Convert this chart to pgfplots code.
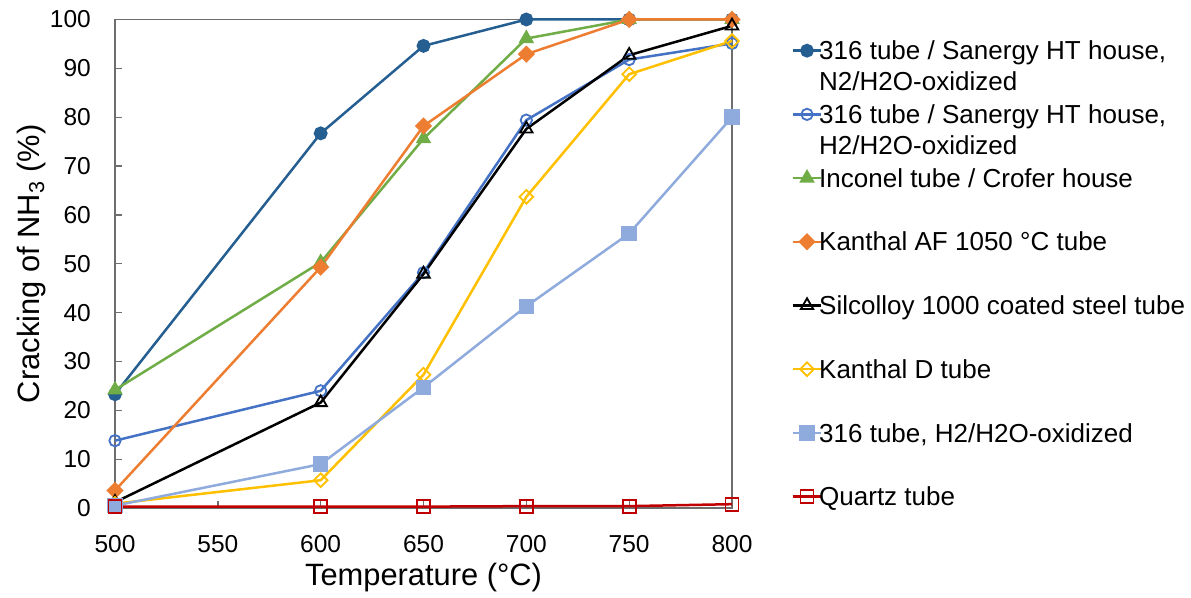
\documentclass[border=0pt]{standalone}
\usepackage{pgfplots}
\pgfplotsset{compat=1.18}
\usepackage{fontspec}
\setmainfont{Liberation Sans}

\definecolor{axisgray}{RGB}{110,110,110}
\definecolor{cdarkblue}{RGB}{37,94,145}
\definecolor{cblue}{RGB}{68,114,196}
\definecolor{cgreen}{RGB}{112,173,71}
\definecolor{corange}{RGB}{237,125,49}
\definecolor{cyellow}{RGB}{255,192,0}
\definecolor{clightblue}{RGB}{143,170,220}
\definecolor{cred}{RGB}{192,0,0}

\begin{document}
\begin{tikzpicture}
\begin{axis}[
    width=370pt, height=293pt, scale only axis,
    xmin=500, xmax=800, ymin=0, ymax=100,
    xtick={500,550,...,800}, ytick={0,10,...,100},
    xtick pos=bottom, ytick pos=left,
    tick align=inside, major tick length=4pt,
    axis line style={draw=axisgray, line width=1pt},
    tick style={draw=axisgray, line width=0.8pt},
    clip=false,
    /pgf/number format/assume math mode=true,
    ticklabel style={font=\fontsize{14.7}{17}\selectfont},
    xticklabel style={yshift=-13pt},
    yticklabel style={xshift=-11pt},
    xlabel={Temperature (°C)},
    ylabel={Cracking of NH\textsubscript{3} (\%)},
    every axis x label/.style={at={(axis description cs:0.5,-0.142)}, anchor=center,
      font=\fontsize{18.5}{22}\selectfont},
    every axis y label/.style={at={(axis description cs:-0.136,0.5)}, anchor=center, rotate=90,
      font=\fontsize{18.5}{22}\selectfont},
    legend style={at={(1,1)}, anchor=north west, xshift=32.5pt, yshift=-10pt,
      draw=none, fill=none, font=\fontsize{15.6}{18.6}\selectfont,
      row sep=0pt, column sep=-2pt,
      nodes={inner sep=0pt, text height=12pt, text depth=26.2pt}},
    legend image post style={yshift=12.6pt},
    legend cell align=left,
    every axis plot/.append style={line width=1.5pt},
  ]
  % bounding box to keep the reference margins
  \path (rel axis cs:-0.1864,1.0399) rectangle (rel axis cs:1.7439,-0.1822);

  \addplot[cdarkblue, mark=*, mark size=3.4pt] coordinates
    {(500,23.3) (600,76.7) (650,94.6) (700,100) (750,100) (800,100)};
  \addlegendentry{\vtop{\hbox{316 tube / Sanergy HT house,}\hbox{N2/H2O-oxidized}}}

  \addplot[cblue, mark=o, mark size=3.4pt, mark options={line width=1.1pt}] coordinates
    {(500,13.8) (600,24) (650,48.2) (700,79.4) (750,91.8) (800,95.1)};
  \addlegendentry{\vtop{\hbox{316 tube / Sanergy HT house,}\hbox{H2/H2O-oxidized}}}

  \addplot[cgreen, mark=triangle*, mark size=3.9pt] coordinates
    {(500,24.2) (600,50.3) (650,75.6) (700,96.1) (750,100) (800,100)};
  \addlegendentry{Inconel tube / Crofer house}

  \addplot[corange, mark=square*, mark size=2.9pt, mark options={rotate=45}] coordinates
    {(500,3.6) (600,49.3) (650,78.2) (700,92.9) (750,100) (800,100)};
  \addlegendentry{Kanthal AF 1050 °C tube}

  \addplot[black, mark=triangle, mark size=4.3pt, mark options={fill=white, line width=1.1pt}] coordinates
    {(500,1.2) (600,21.6) (650,47.9) (700,77.6) (750,92.7) (800,98.7)};
  \addlegendentry{Silcolloy 1000 coated steel tube}

  \addplot[cyellow, mark=square, mark size=2.9pt, mark options={rotate=45, fill=white, line width=1.1pt}] coordinates
    {(500,0.9) (600,5.7) (650,27.3) (700,63.7) (750,88.8) (800,95.6)};
  \addlegendentry{Kanthal D tube}

  \addplot[clightblue, mark=square*, mark size=3.9pt] coordinates
    {(500,0.5) (600,9) (650,24.7) (700,41.3) (750,56.2) (800,80)};
  \addlegendentry{316 tube, H2/H2O-oxidized}

  \addplot[cred, mark=square, mark size=3.9pt, mark options={line width=1.1pt}] coordinates
    {(500,0.3) (600,0.3) (650,0.3) (700,0.4) (750,0.4) (800,0.8)};
  \addlegendentry{Quartz tube}
\end{axis}
\end{tikzpicture}
\end{document}
